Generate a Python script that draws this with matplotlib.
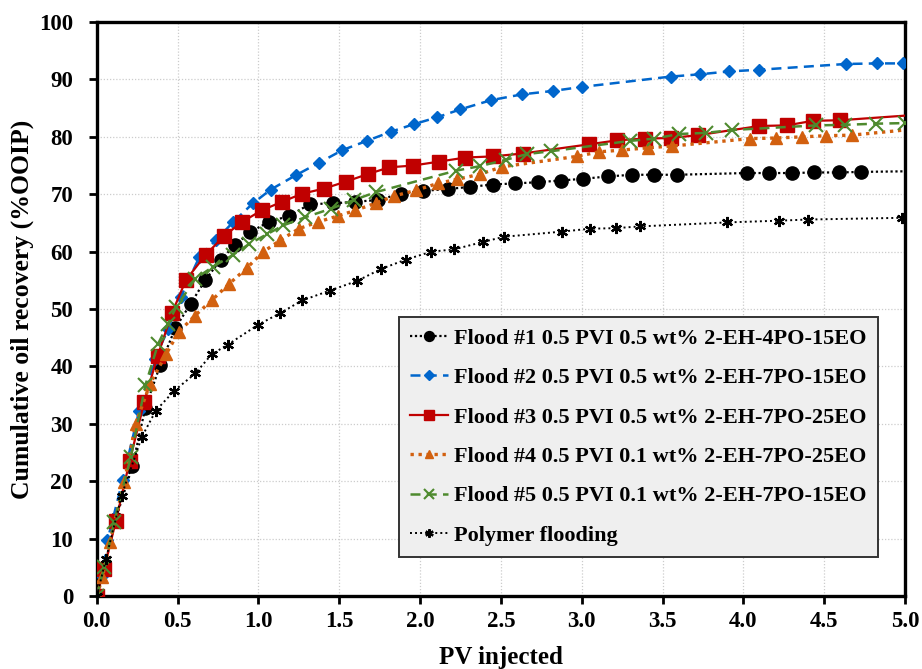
import matplotlib
matplotlib.use("Agg")
import matplotlib.pyplot as plt
from matplotlib.ticker import MultipleLocator, FormatStrFormatter

# Flood #1 0.5 PVI 0.5 wt% 2-EH-4PO-15EO
f1_x = [0, 0.045, 0.117, 0.22, 0.30, 0.393, 0.486, 0.58, 0.67, 0.766, 0.857, 0.95,
        1.063, 1.187, 1.32, 1.46, 1.60, 1.74, 1.88, 2.02, 2.17, 2.31, 2.45, 2.59,
        2.73, 2.87, 3.01, 3.16, 3.31, 3.45, 3.59, 4.02, 4.16, 4.30, 4.44, 4.59, 4.73, 5.0]
f1_y = [0, 4.7, 13.4, 22.6, 32.8, 40.3, 46.7, 50.9, 55.0, 58.6, 61.2, 63.4,
        65.2, 66.2, 68.3, 68.4, 68.7, 69.0, 70.1, 70.6, 70.9, 71.3, 71.7, 71.9,
        72.1, 72.4, 72.7, 73.1, 73.4, 73.4, 73.4, 73.7, 73.7, 73.7, 73.8, 73.8, 73.9, 74.0]

# Flood #2 0.5 PVI 0.5 wt% 2-EH-7PO-15EO
f2_x = [0, 0.035, 0.066, 0.16, 0.262, 0.36, 0.44, 0.52, 0.635, 0.74, 0.845, 0.965,
        1.075, 1.23, 1.376, 1.52, 1.67, 1.82, 1.96, 2.105, 2.25, 2.44, 2.63, 2.82,
        3.0, 3.55, 3.73, 3.91, 4.10, 4.635, 4.83, 4.99]
f2_y = [0, 3.5, 9.7, 20.2, 32.3, 41.3, 46.5, 52.1, 59.1, 62.1, 65.2, 68.4,
        70.8, 73.3, 75.5, 77.7, 79.3, 80.9, 82.2, 83.4, 84.8, 86.4, 87.4, 88.0,
        88.7, 90.5, 90.9, 91.4, 91.7, 92.7, 92.8, 92.8]

# Flood #3 0.5 PVI 0.5 wt% 2-EH-7PO-25EO
f3_x = [0, 0.045, 0.118, 0.204, 0.293, 0.376, 0.465, 0.552, 0.675, 0.79, 0.90, 1.02,
        1.147, 1.27, 1.407, 1.54, 1.675, 1.81, 1.955, 2.12, 2.28, 2.45, 2.635,
        3.045, 3.22, 3.39, 3.55, 3.72, 4.10, 4.27, 4.43, 4.60, 5.0]
f3_y = [0, 4.7, 13.1, 23.6, 33.8, 41.8, 49.3, 55.1, 59.5, 62.8, 65.2, 67.2,
        68.7, 70.1, 71.0, 72.2, 73.5, 74.7, 75.0, 75.7, 76.4, 76.6, 77.1,
        78.7, 79.4, 79.7, 79.8, 80.3, 81.9, 82.0, 82.8, 82.9, 83.7]

# Flood #4 0.5 PVI 0.1 wt% 2-EH-7PO-25EO
f4_x = [0, 0.035, 0.08, 0.17, 0.24, 0.33, 0.43, 0.506, 0.605, 0.71, 0.815, 0.93,
        1.026, 1.135, 1.25, 1.37, 1.49, 1.60, 1.73, 1.84, 1.975, 2.11, 2.23, 2.37,
        2.51, 2.97, 3.11, 3.25, 3.41, 3.56, 4.04, 4.20, 4.36, 4.51, 4.67, 5.0]
f4_y = [0, 3.3, 9.4, 19.8, 30.0, 37.0, 42.2, 46.0, 48.8, 51.5, 54.3, 57.2,
        59.9, 62.0, 64.0, 65.2, 66.2, 67.2, 68.5, 69.7, 70.7, 71.9, 72.6, 73.5,
        74.8, 76.6, 77.4, 77.7, 78.1, 78.4, 79.7, 79.8, 80.0, 80.2, 80.3, 81.2]

# Flood #5 0.5 PVI 0.1 wt% 2-EH-7PO-15EO
f5_x = [0, 0.045, 0.107, 0.21, 0.30, 0.38, 0.44, 0.49, 0.61, 0.72, 0.84, 0.94,
        1.05, 1.155, 1.29, 1.45, 1.59, 1.73, 2.22, 2.37, 2.53, 2.66, 2.81,
        3.30, 3.45, 3.60, 3.77, 3.93, 4.45, 4.63, 4.82, 5.0]
f5_y = [0, 5.0, 12.9, 24.2, 36.7, 44.0, 47.4, 50.3, 55.3, 57.4, 59.4, 61.3,
        63.0, 64.6, 66.0, 67.5, 69.0, 70.4, 74.1, 74.9, 76.0, 77.0, 77.5,
        79.3, 79.7, 80.5, 80.7, 81.2, 82.0, 82.1, 82.3, 82.4]

# Polymer flooding
pf_x = [0, 0.056, 0.153, 0.278, 0.365, 0.48, 0.61, 0.71, 0.81, 1.0, 1.135, 1.27,
        1.44, 1.61, 1.76, 1.91, 2.07, 2.21, 2.39, 2.52, 2.88, 3.05, 3.21, 3.36,
        3.90, 4.22, 4.40, 4.98]
pf_y = [0, 6.4, 17.5, 27.7, 32.3, 35.8, 38.8, 42.1, 43.8, 47.3, 49.3, 51.5,
        53.2, 54.9, 57.0, 58.6, 60.0, 60.4, 61.7, 62.6, 63.5, 64.0, 64.1, 64.4,
        65.1, 65.4, 65.6, 65.9]

labels = [
    "Flood #1 0.5 PVI 0.5 wt% 2-EH-4PO-15EO",
    "Flood #2 0.5 PVI 0.5 wt% 2-EH-7PO-15EO",
    "Flood #3 0.5 PVI 0.5 wt% 2-EH-7PO-25EO",
    "Flood #4 0.5 PVI 0.1 wt% 2-EH-7PO-25EO",
    "Flood #5 0.5 PVI 0.1 wt% 2-EH-7PO-15EO",
    "Polymer flooding",
]

plt.rcParams["font.family"] = ["Liberation Serif", "DejaVu Serif"]
plt.rcParams["font.weight"] = "bold"

fig = plt.figure(figsize=(9.22, 6.69), dpi=100)
ax = fig.add_axes([0.105, 0.109, 0.8765, 0.858])

ax.plot(f1_x, f1_y, color="black", ls=(0, (1, 1.2)), lw=1.6, marker="o", ms=9.5,
        markevery=list(range(len(f1_x) - 1)), label=labels[0], zorder=3)
ax.plot(f2_x, f2_y, color="#0066cc", ls=(0, (4, 2.5)), lw=1.8, marker="D", ms=6.5,
        label=labels[1], zorder=4)
ax.plot(f3_x, f3_y, color="#c00000", ls="-", lw=1.6, marker="s", ms=9.5,
        markevery=list(range(len(f3_x) - 1)), label=labels[2], zorder=5)
ax.plot(f4_x, f4_y, color="#d2600f", ls=(0, (1, 1.4)), lw=2.4, marker="^", ms=8,
        markevery=list(range(len(f4_x) - 1)), label=labels[3], zorder=6)
ax.plot(f5_x, f5_y, color="#4e8a2e", ls=(0, (4, 2.5)), lw=1.8, marker="x", ms=10,
        mew=1.5, label=labels[4], zorder=7)
ax.plot(pf_x, pf_y, color="black", ls=(0, (1, 1.6)), lw=1.4, marker=(6, 2, 0), ms=8,
        mew=1.6, label=labels[5], zorder=8)

ax.set_xlim(0, 5.0)
ax.set_ylim(0, 100)
ax.xaxis.set_major_locator(MultipleLocator(0.5))
ax.yaxis.set_major_locator(MultipleLocator(10))
ax.xaxis.set_major_formatter(FormatStrFormatter("%.1f"))
ax.grid(True, color="#cccccc", ls=(0, (1, 1.5)), lw=0.9, zorder=0)
ax.set_axisbelow(True)

for sp in ax.spines.values():
    sp.set_linewidth(2.4)
ax.tick_params(axis="both", which="major", direction="out", length=6, width=2,
               labelsize=16.5)
ax.tick_params(axis="y", pad=11)
ax.tick_params(axis="x", pad=5)
for lab in ax.get_xticklabels() + ax.get_yticklabels():
    lab.set_fontweight("bold")

ax.set_xlabel("PV injected", fontsize=18, fontweight="bold", labelpad=10)
ax.set_ylabel("Cumulative oil recovery (%OOIP)", fontsize=18.5, fontweight="bold",
              labelpad=4)

leg = ax.legend(loc="lower right", bbox_to_anchor=(0.9666, 0.068),
                prop={"weight": "bold", "size": 16}, frameon=True, fancybox=False,
                handlelength=1.7, handletextpad=0.3, labelspacing=0.85,
                borderpad=0.5, borderaxespad=0.0, markerscale=0.75)
frame = leg.get_frame()
frame.set_facecolor("#efefef")
frame.set_edgecolor("#333333")
frame.set_linewidth(1.4)
frame.set_alpha(1)

fig.savefig("out.png", dpi=100)
